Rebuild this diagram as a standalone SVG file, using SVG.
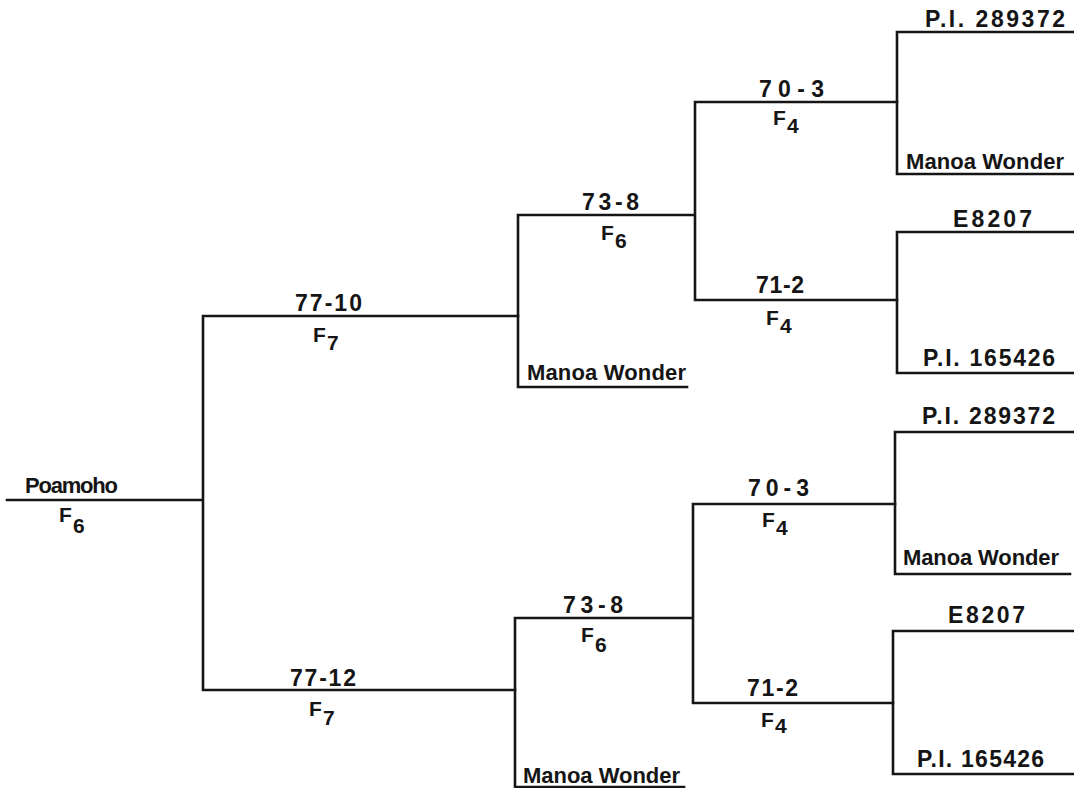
<svg xmlns="http://www.w3.org/2000/svg" width="1074" height="788" viewBox="0 0 1074 788">
<style>
.ln{stroke:#151515;stroke-width:2.6;fill:none;stroke-linecap:square}
text{font-family:"Liberation Sans",Arial,sans-serif;font-weight:bold;fill:#151515}
.lb{font-size:23px}
.nm{font-size:22px}
.f{font-size:21px}
</style>
<rect width="1074" height="788" fill="#ffffff"/>
<g id="connectors">
<path class="ln" d="M7,500 H203 M203,316 V690 M203,316 H518 M203,690 H515"/>
<path class="ln" d="M518,215 V387 H687 M518,215 H695 M695,102 V300 M695,102 H897 M695,300 H897"/>
<path class="ln" d="M897,32 V174 M897,32 H1074 M897,174 H1074 M897,232 V373 M897,232 H1074 M897,373 H1074"/>
<path class="ln" d="M515,618 V788 M515,787 H684 M515,618 H693 M693,504 V703 M693,504 H895 M693,703 H893"/>
<path class="ln" d="M895,432 V574 M895,432 H1074 M895,574 H1070 M893,631 V774 M893,631 H1074 M893,774 H1074"/>
</g>
<g id="n-poamoho"><text class="nm" x="25" y="493" textLength="93">Poamoho</text><text class="f" x="59" y="522">F</text><text class="f" x="73" y="533">6</text></g>
<g id="n-77-10"><text class="lb" x="295" y="311" textLength="67">77-10</text><text class="f" x="313" y="342">F</text><text class="f" x="327" y="350">7</text></g>
<g id="n-77-12"><text class="lb" x="290" y="686" textLength="66">77-12</text><text class="f" x="309" y="716">F</text><text class="f" x="323" y="725">7</text></g>
<g id="n-73-8a"><text class="lb" x="582" y="210" textLength="57">73-8</text><text class="f" x="601" y="240">F</text><text class="f" x="615" y="248">6</text></g>
<g id="n-mw2a"><text class="nm" x="527" y="380" textLength="159">Manoa Wonder</text></g>
<g id="n-73-8b"><text class="lb" x="563" y="613" textLength="60">73-8</text><text class="f" x="581" y="642">F</text><text class="f" x="595" y="652">6</text></g>
<g id="n-mw2b"><text class="nm" x="523" y="783" textLength="157">Manoa Wonder</text></g>
<g id="n-70-3a"><text class="lb" x="759" y="97" textLength="65">70-3</text><text class="f" x="773" y="125">F</text><text class="f" x="787" y="133">4</text></g>
<g id="n-71-2a"><text class="lb" x="756" y="293" textLength="48">71-2</text><text class="f" x="766" y="325">F</text><text class="f" x="780" y="333">4</text></g>
<g id="n-70-3b"><text class="lb" x="748" y="496" textLength="61">70-3</text><text class="f" x="762" y="527">F</text><text class="f" x="776" y="535">4</text></g>
<g id="n-71-2b"><text class="lb" x="747" y="696" textLength="51">71-2</text><text class="f" x="761" y="727">F</text><text class="f" x="775" y="733">4</text></g>
<g id="n-pi289a"><text class="lb" x="925" y="27" textLength="140">P.I. 289372</text></g>
<g id="n-mw4a"><text class="nm" x="906" y="169" textLength="158">Manoa Wonder</text></g>
<g id="n-e8207a"><text class="lb" x="953" y="227" textLength="79">E8207</text></g>
<g id="n-pi165a"><text class="lb" x="923" y="366" textLength="132">P.I. 165426</text></g>
<g id="n-pi289b"><text class="lb" x="922" y="424" textLength="133">P.I. 289372</text></g>
<g id="n-mw4b"><text class="nm" x="903" y="565" textLength="156">Manoa Wonder</text></g>
<g id="n-e8207b"><text class="lb" x="948" y="623" textLength="77">E8207</text></g>
<g id="n-pi165b"><text class="lb" x="917" y="767" textLength="127">P.I. 165426</text></g>
</svg>
